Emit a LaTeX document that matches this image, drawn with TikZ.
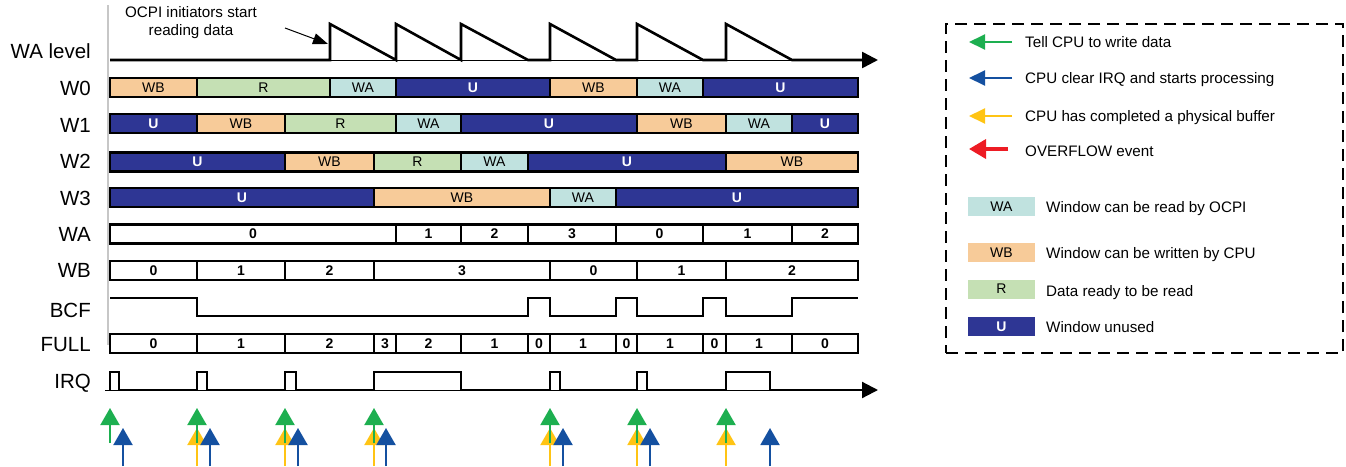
\documentclass[tikz,border=0pt]{standalone}
\usepackage{fontspec}
\setmainfont{Liberation Sans}
\usetikzlibrary{arrows.meta}
\definecolor{wbc}{HTML}{F7CB99}
\definecolor{rc}{HTML}{C5E0B4}
\definecolor{wac}{HTML}{C0E2DF}
\definecolor{uc}{HTML}{2E3694}
\definecolor{evgreen}{HTML}{1DAF50}
\definecolor{evblue}{HTML}{1450A0}
\definecolor{evyellow}{HTML}{FFC414}
\definecolor{evred}{HTML}{ED1C24}
\begin{document}
\begin{tikzpicture}[x=1pt,y=-1pt,
  rowlabel/.style={anchor=base east, inner sep=0, font=\fontsize{20.5}{24}\selectfont},
  seg/.style={draw=black, line width=2.8pt, inner sep=0, minimum height=19pt, font=\fontsize{14}{16}\selectfont},
  numseg/.style={seg, fill=white, font=\fontsize{14}{16}\selectfont\bfseries},
  signal/.style={line width=2.6pt, line join=miter},
  thinbase/.style={line width=1pt},
  axisarrow/.style={-{Triangle[length=16pt,width=16pt]}},
  evarrow/.style={line width=2pt, -{Triangle[length=17pt,width=19pt]}},
  legtext/.style={anchor=base west, inner sep=0, font=\fontsize{15.2}{18}\selectfont},
  legarrow/.style={line width=2pt, -{Triangle[length=16pt,width=15pt]}},
  swatch/.style={minimum width=67pt, minimum height=19pt, inner sep=0, font=\fontsize{14}{16}\selectfont}
]
\useasboundingbox (0,0) rectangle (1346,466);

% time axis start line
\draw[black!22, line width=1.5pt] (108,5) -- (108,345);

% row labels
\node[rowlabel] (lWAlevel) at (91,58) {WA level};
\node[rowlabel] (lW0) at (91,95) {W0};
\node[rowlabel] (lW1) at (91,132) {W1};
\node[rowlabel] (lW2) at (91,168) {W2};
\node[rowlabel] (lW3) at (91,205) {W3};
\node[rowlabel] (lWA) at (91,241) {WA};
\node[rowlabel] (lWB) at (91,277) {WB};
\node[rowlabel] (lBCF) at (91,317) {BCF};
\node[rowlabel] (lFULL) at (91,351) {FULL};
\node[rowlabel] (lIRQ) at (91,388) {IRQ};

% WA level
\draw[thinbase] (110,60) -- (862,60);
\draw[signal, axisarrow] (110,60) -- (330,60) -- (330,24) -- (396,60) -- (396,24) -- (461,60) -- (461,24) -- (528,60) -- (550,60) -- (550,24) -- (616,60) -- (637,60) -- (637,24) -- (703,60) -- (726,60) -- (726,24) -- (792,60) -- (878,60);

% annotation
\node[align=center, inner sep=0, font=\fontsize{15.2}{18}\selectfont] (ann) at (191,23) {OCPI initiators start\\reading data};
\coordinate (annS) at (285,28);
\coordinate (annT) at (328,44);
\draw[line width=1pt, -{Triangle[length=15pt,width=11pt]}] (annS) -- (annT);

% W0
\foreach \i/\xa/\xb/\fc/\tc/\tx in {1/110/197/wbc/black/WB, 2/197/330/rc/black/R, 3/330/396/wac/black/WA, 4/396/550/uc/white/\textbf{U}, 5/550/637/wbc/black/WB, 6/637/703/wac/black/WA, 7/703/858/uc/white/\textbf{U}}
  \node[seg, fill=\fc, text=\tc, minimum width=\xb-\xa] (w0s\i) at ({(\xa+\xb)/2},87.5) {\tx};
% W1
\foreach \i/\xa/\xb/\fc/\tc/\tx in {1/110/197/uc/white/\textbf{U}, 2/197/285/wbc/black/WB, 3/285/396/rc/black/R, 4/396/461/wac/black/WA, 5/461/637/uc/white/\textbf{U}, 6/637/726/wbc/black/WB, 7/726/792/wac/black/WA, 8/792/858/uc/white/\textbf{U}}
  \node[seg, fill=\fc, text=\tc, minimum width=\xb-\xa] (w1s\i) at ({(\xa+\xb)/2},123.5) {\tx};
% W2
\foreach \i/\xa/\xb/\fc/\tc/\tx in {1/110/285/uc/white/\textbf{U}, 2/285/374/wbc/black/WB, 3/374/461/rc/black/R, 4/461/528/wac/black/WA, 5/528/726/uc/white/\textbf{U}, 6/726/858/wbc/black/WB}
  \node[seg, fill=\fc, text=\tc, minimum width=\xb-\xa] (w2s\i) at ({(\xa+\xb)/2},162) {\tx};
% W3
\foreach \i/\xa/\xb/\fc/\tc/\tx in {1/110/374/uc/white/\textbf{U}, 2/374/550/wbc/black/WB, 3/550/616/wac/black/WA, 4/616/858/uc/white/\textbf{U}}
  \node[seg, fill=\fc, text=\tc, minimum width=\xb-\xa] (w3s\i) at ({(\xa+\xb)/2},197.5) {\tx};
% WA row
\foreach \i/\xa/\xb/\tx in {1/110/396/0, 2/396/461/1, 3/461/528/2, 4/528/616/3, 5/616/703/0, 6/703/792/1, 7/792/858/2}
  \node[numseg, minimum width=\xb-\xa] (was\i) at ({(\xa+\xb)/2},234) {\tx};
% WB row
\foreach \i/\xa/\xb/\tx in {1/110/197/0, 2/197/285/1, 3/285/374/2, 4/374/550/3, 5/550/637/0, 6/637/726/1, 7/726/858/2}
  \node[numseg, minimum width=\xb-\xa] (wbs\i) at ({(\xa+\xb)/2},270.5) {\tx};
% FULL row
\foreach \i/\xa/\xb/\tx in {1/110/197/0, 2/197/285/1, 3/285/374/2, 4/374/396/3, 5/396/461/2, 6/461/528/1, 7/528/550/0, 8/550/616/1, 9/616/637/0, 10/637/703/1, 11/703/726/0, 12/726/792/1, 13/792/858/0}
  \node[numseg, minimum width=\xb-\xa] (fs\i) at ({(\xa+\xb)/2},343.5) {\tx};

% BCF
\draw[signal] (110,298) -- (197,298) -- (197,316) -- (528,316) -- (528,298) -- (550,298) -- (550,316) -- (616,316) -- (616,298) -- (637,298) -- (637,316) -- (703,316) -- (703,298) -- (726,298) -- (726,316) -- (792,316) -- (792,298) -- (858,298);

% IRQ
\draw[thinbase] (105,390) -- (862,390);
\draw[line width=2.2pt, line join=miter, axisarrow] (110,390) -- (110,372) -- (119,372) -- (119,390) -- (197,390) -- (197,372) -- (207,372) -- (207,390) -- (285,390) -- (285,372) -- (296,372) -- (296,390) -- (374,390) -- (374,372) -- (461,372) -- (461,390) -- (550,390) -- (550,372) -- (560,372) -- (560,390) -- (637,390) -- (637,372) -- (647,372) -- (647,390) -- (726,390) -- (726,372) -- (770,372) -- (770,390) -- (878,390);

% event arrows
\foreach \x [count=\i] in {197,285,374,550,637,726} {
  \coordinate (yS\i) at (\x,466); \coordinate (yT\i) at (\x,428);
  \draw[evarrow, evyellow] (yS\i) -- (yT\i);
}
\foreach \x [count=\i] in {110,197,285,374,550,637,726} {
  \coordinate (gS\i) at (\x,443); \coordinate (gT\i) at (\x,408);
  \draw[evarrow, evgreen] (gS\i) -- (gT\i);
}
\foreach \x [count=\i] in {123,210,298,386,563,650,770} {
  \coordinate (bS\i) at (\x,466); \coordinate (bT\i) at (\x,428);
  \draw[evarrow, evblue] (bS\i) -- (bT\i);
}

% legend
\node[draw, line width=2pt, dash pattern=on 12pt off 7pt, minimum width=397pt, minimum height=329pt, inner sep=0] (legend) at (1144.5,188.5) {};
\coordinate (lg1s) at (1012,42); \coordinate (lg1t) at (969,42);
\coordinate (lg2s) at (1012,78); \coordinate (lg2t) at (969,78);
\coordinate (lg3s) at (1012,116); \coordinate (lg3t) at (969,116);
\coordinate (lg4s) at (1008,149); \coordinate (lg4t) at (969,149);
\draw[legarrow, evgreen] (lg1s) -- (lg1t);
\draw[legarrow, evblue] (lg2s) -- (lg2t);
\draw[legarrow, evyellow] (lg3s) -- (lg3t);
\draw[evred, line width=3.5pt, -{Triangle[length=17pt,width=19pt]}] (lg4s) -- (lg4t);
\node[legtext] (lt1) at (1025,47) {Tell CPU to write data};
\node[legtext] (lt2) at (1025,83) {CPU clear IRQ and starts processing};
\node[legtext] (lt3) at (1025,121) {CPU has completed a physical buffer};
\node[legtext] (lt4) at (1025,156) {OVERFLOW event};
\node[swatch, fill=wac] (swWA) at (1001.5,206.5) {WA};
\node[swatch, fill=wbc] (swWB) at (1001.5,252.5) {WB};
\node[swatch, fill=rc] (swR) at (1001.5,289) {R};
\node[swatch, fill=uc, text=white] (swU) at (1001.5,326.5) {\textbf{U}};
\node[legtext] (st1) at (1046,212) {Window can be read by OCPI};
\node[legtext] (st2) at (1046,258) {Window can be written by CPU};
\node[legtext] (st3) at (1046,296) {Data ready to be read};
\node[legtext] (st4) at (1046,332) {Window unused};
\end{tikzpicture}
\end{document}
